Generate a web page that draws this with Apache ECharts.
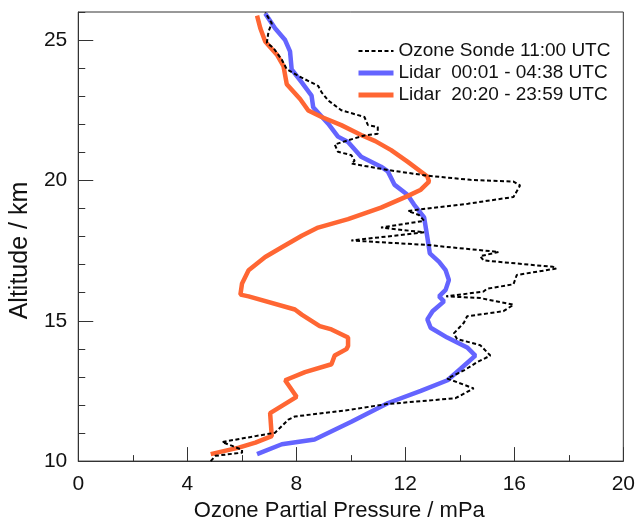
<!DOCTYPE html>
<html>
<head>
<meta charset="utf-8">
<script src="https://cdn.jsdelivr.net/npm/echarts@6/dist/echarts.min.js"></script>
<style>
html,body{margin:0;padding:0;background:#fff;}
#chart{width:638px;height:527px;}
</style>
</head>
<body>
<div id="chart"></div>
<script>
// Ozone sonde 11:00 UTC (partial pressure mPa, altitude km)
var sondeX = [4.86,5.04,6.01,6.01,5.65,5.28,6.5,7.22,7.71,7.95,9.78,11.3,13.84,14.51,13.54,14.15,14.63,15.12,14.75,13.9,13.78,14.15,14.27,15.6,15.97,14.75,13.5,14.87,15.0,15.97,16.09,17.54,17.42,14.87,14.75,15.42,12.81,10.02,12.69,11.11,12.69,12.5,12.1,12.8,14.3,15.97,16.09,16.21,15.97,14.39,12.8,11.36,10.02,10.14,10.02,9.53,9.41,9.9,10.5,10.99,10.99,10.63,10.5,9.65,9.17,8.93,8.8,8.2,7.65,7.47,7.16,6.92,6.98,7.1,6.86];
var sondeAlt = [10.0,10.19,10.3,10.4,10.54,10.68,10.89,11.01,11.48,11.59,11.8,12.03,12.24,12.59,12.94,13.23,13.52,13.76,14.13,14.35,14.55,14.93,15.16,15.34,15.57,15.81,15.87,16.04,16.14,16.3,16.63,16.86,16.92,17.15,17.3,17.45,17.7,17.86,18.15,18.32,18.56,18.77,18.91,19.0,19.17,19.41,19.61,19.82,19.96,20.02,20.17,20.37,20.6,20.7,20.9,21.02,21.28,21.43,21.6,21.66,21.9,21.97,22.26,22.5,22.85,23.14,23.37,23.66,23.96,24.3,24.72,24.9,25.3,25.6,25.98];

// Lidar 00:01 - 04:38 UTC
var lidarAX = [6.56,7.47,8.67,10.02,11.37,12.57,13.55,14.03,14.57,14.27,13.54,12.93,12.81,13.0,13.42,13.24,13.48,13.6,13.48,13.24,12.9,12.81,12.69,12.32,12.08,11.6,11.36,11.11,10.38,9.9,9.53,9.17,8.62,8.56,8.2,7.83,7.77,7.59,7.22,6.86];
var lidarAAlt = [10.25,10.6,10.77,11.4,12.07,12.5,12.88,13.29,13.76,14.05,14.4,14.75,15.05,15.34,15.69,15.87,16.1,16.45,16.8,17.1,17.4,17.97,18.68,19.14,19.49,19.85,20.32,20.49,20.84,21.37,21.56,22.02,22.61,23.02,23.49,23.96,24.6,25.0,25.42,25.95];

// Lidar 20:20 - 23:59 UTC
var lidarBX = [4.86,5.89,6.5,7.1,7.04,8.01,7.59,8.32,9.29,9.41,9.84,9.9,9.9,9.29,8.86,8.2,7.95,6.25,5.95,6.01,6.25,6.86,7.47,8.2,8.8,9.9,11.11,12.08,12.57,12.87,12.81,12.08,11.48,10.9,10.38,9.65,8.93,8.44,8.14,7.65,7.53,7.29,6.86,6.68,6.56];
var lidarBAlt = [10.25,10.48,10.66,10.89,11.71,12.29,12.88,13.17,13.45,13.76,13.99,14.1,14.4,14.69,14.81,15.22,15.4,15.87,15.93,16.33,16.8,17.27,17.62,18.03,18.32,18.62,19.03,19.44,19.67,19.96,20.14,20.67,21.08,21.4,21.62,21.97,22.26,22.49,22.9,23.43,24.07,24.48,24.95,25.42,25.87];

var seriesNames = ['Ozone Sonde 11:00 UTC', 'Lidar  00:01 - 04:38 UTC', 'Lidar  20:20 - 23:59 UTC'];

function pairs(xs, ys) { return xs.map(function (v, i) { return [v, ys[i]]; }); }

var FONT = 'Liberation Sans, Arial, sans-serif';
var NOSYM = {color: 'rgba(0,0,0,0)', opacity: 0};
var chart = echarts.init(document.getElementById('chart'), null, {renderer: 'canvas'});
chart.setOption({
  animation: false,
  backgroundColor: '#ffffff',
  grid: {left: 75, top: 12, right: 14, bottom: 60, show: true, borderColor: '#333', borderWidth: 1, backgroundColor: 'transparent'},
  legend: {
    orient: 'vertical', left: 351, top: 36, itemWidth: 35, itemHeight: 14, itemGap: 2,
    itemStyle: {opacity: 0},
    textStyle: {fontFamily: FONT, fontSize: 19, color: '#111', lineHeight: 20},
    data: [
      {name: seriesNames[0], lineStyle: {width: 2, color: '#000', type: [4, 2.5]}},
      {name: seriesNames[1], lineStyle: {width: 5, color: '#6464ff'}},
      {name: seriesNames[2], lineStyle: {width: 5, color: '#ff6633'}}
    ]
  },
  xAxis: {
    type: 'value', min: 0, max: 20, interval: 4,
    name: 'Ozone Partial Pressure / mPa', nameLocation: 'middle', nameGap: 37,
    nameTextStyle: {fontFamily: FONT, fontSize: 22, color: '#111', padding: [0, 23, 0, 0]},
    axisLine: {show: true, lineStyle: {color: '#333', width: 1}},
    axisTick: {show: true, inside: true, length: 14, lineStyle: {color: '#333'}},
    minorTick: {show: true, splitNumber: 2, length: 6, lineStyle: {color: '#333'}},
    axisLabel: {fontFamily: FONT, fontSize: 21, color: '#111', margin: 13},
    splitLine: {show: false}, minorSplitLine: {show: false}
  },
  yAxis: [{
    type: 'value', min: 10, max: 26, interval: 5,
    name: 'Altitude / km', nameLocation: 'middle', nameGap: 35, nameRotate: 90,
    nameTextStyle: {fontFamily: FONT, fontSize: 25, color: '#111', padding: [0, 28, 0, 0]},
    axisLine: {show: true, lineStyle: {color: '#333', width: 1}},
    axisTick: {show: true, inside: true, length: 15, lineStyle: {color: '#333'}},
    axisLabel: {fontFamily: FONT, fontSize: 21, color: '#111', margin: 11, showMaxLabel: false},
    splitLine: {show: false}
  }, {
    type: 'value', min: 10, max: 26, interval: 1, position: 'left', offset: 0,
    axisLine: {show: false},
    axisTick: {show: true, inside: true, length: 7, lineStyle: {color: '#333'}},
    axisLabel: {show: false},
    splitLine: {show: false}
  }],
  series: [{
    name: seriesNames[0], type: 'line', symbol: 'none', yAxisIndex: 0,
    data: pairs(sondeX, sondeAlt),
    lineStyle: {color: '#000', width: 2, type: [4, 2.5]},
    itemStyle: NOSYM, z: 3
  }, {
    name: seriesNames[1], type: 'line', symbol: 'none', yAxisIndex: 0,
    data: pairs(lidarAX, lidarAAlt),
    lineStyle: {color: '#6464ff', width: 4.5},
    itemStyle: NOSYM, z: 2
  }, {
    name: seriesNames[2], type: 'line', symbol: 'none', yAxisIndex: 0,
    data: pairs(lidarBX, lidarBAlt),
    lineStyle: {color: '#ff6633', width: 4.5},
    itemStyle: NOSYM, z: 2
  }]
});
</script>
</body>
</html>
